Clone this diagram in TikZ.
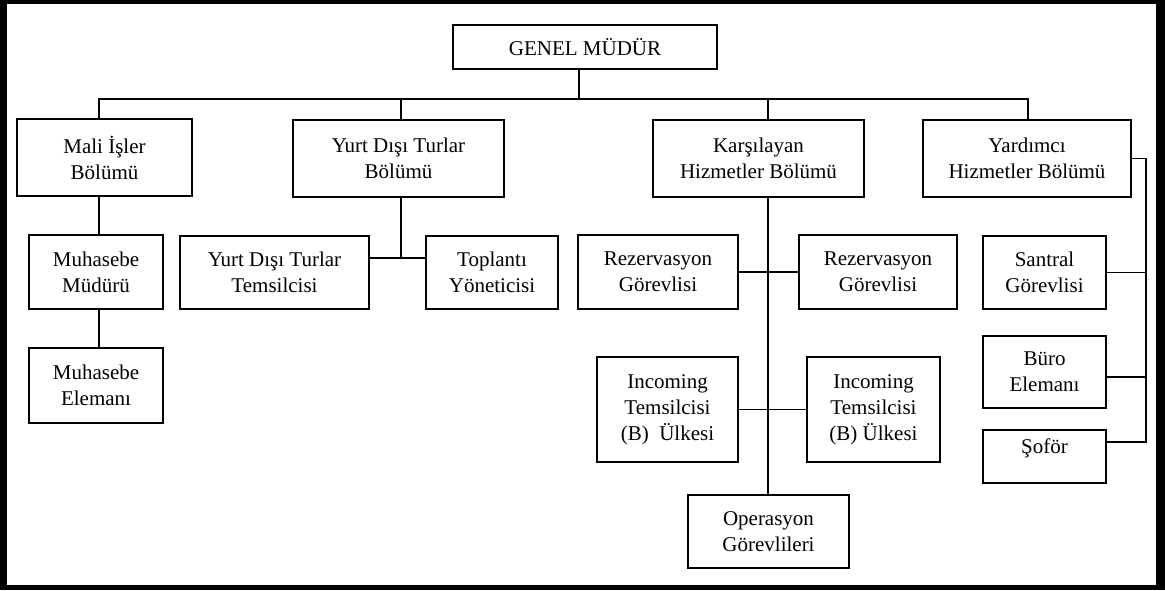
\documentclass[tikz,border=0pt]{standalone}
\usepackage{fontspec}
\setmainfont{Liberation Serif}
% box given by its left, top, right and bottom edges (pixel units)
\newcommand{\orgnode}[6]{%
  \node[orgbox, minimum width={(#4-#2)*0.75pt}, minimum height={(#5-#3)*0.75pt}]
    (#1) at ({(#2+#4)/2},{(#3+#5)/2}) {#6};}
\begin{document}
\begin{tikzpicture}[x=0.75pt,y=-0.75pt,
  orgtext/.style={align=center, inner sep=0pt,
    font=\fontsize{15.75}{19.5}\selectfont},
  orgbox/.style={orgtext, draw, line width=1.4pt},
  link/.style={line width=1.4pt}]
\useasboundingbox (0,0) rectangle (1165,590);
% heavy outer frame
\fill[black] (0,0) rectangle (1165,590);
\fill[white] (7,4) rectangle (1156,585);

% top level
\orgnode{gm}{453}{25}{717}{69}{GENEL MÜDÜR}
% departments
\orgnode{mali}{17}{119}{192}{196}{Mali İşler\\Bölümü}
\orgnode{yurt}{293}{120}{504}{197}{Yurt Dışı Turlar\\Bölümü}
\orgnode{kars}{653}{120}{864}{197}{Karşılayan\\Hizmetler Bölümü}
\orgnode{yard}{923}{120}{1131}{197}{Yardımcı\\Hizmetler Bölümü}
% finance
\orgnode{mm}{29}{235}{163}{309}{Muhasebe\\Müdürü}
\orgnode{me}{29}{348}{163}{423}{Muhasebe\\Elemanı}
% tours abroad
\orgnode{yt}{180}{236}{369}{309}{Yurt Dışı Turlar\\Temsilcisi}
\orgnode{toplanti}{426}{236}{558}{309}{Toplantı\\Yöneticisi}
% reception services
\orgnode{rz1}{578}{235}{738}{309}{Rezervasyon\\Görevlisi}
\orgnode{rz2}{799}{235}{957}{309}{Rezervasyon\\Görevlisi}
\orgnode{inc1}{597}{357}{738}{462}{Incoming\\Temsilcisi\\(B)~~Ülkesi}
\orgnode{inc2}{807}{357}{940}{462}{Incoming\\Temsilcisi\\(B) Ülkesi}
\orgnode{op}{688}{495}{849}{568}{Operasyon\\Görevlileri}
% support services
\orgnode{san}{983}{236}{1106}{309}{Santral\\Görevlisi}
\orgnode{buro}{983}{336}{1106}{408}{Büro\\Elemanı}
\orgnode{sofor}{983}{430}{1106}{483}{}
\node[orgtext, yshift=6pt] (sofortext) at (sofor.center) {Şoför};

% connector positions
\coordinate (xgm) at (579,99);
\coordinate (xmali) at (99,99);
\coordinate (xyurt) at (401,99);
\coordinate (xkars) at (768,99);
\coordinate (xyard) at (1028,99);
\coordinate (rail) at (1146,0);
\coordinate (yyurt) at (0,258);
\coordinate (yburo) at (0,377);
\coordinate (ysof) at (0,442);

% main bus
\draw[link] (xgm |- gm.south) -- (xgm);
\draw[link] (xmali |- mali.north) -- (xmali) -- (xyard) -- (xyard |- yard.north);
\draw[link] (xyurt) -- (xyurt |- yurt.north);
\draw[link] (xkars) -- (xkars |- kars.north);
% finance chain
\draw[link] (xmali |- mali.south) -- (xmali |- mm.north);
\draw[link] (xmali |- mm.south) -- (xmali |- me.north);
% tours abroad
\draw[link] (xyurt |- yurt.south) -- (xyurt |- yyurt);
\draw[link] (yt.east |- yyurt) -- (toplanti.west |- yyurt);
% reception services
\draw[link] (xkars |- kars.south) -- (xkars |- op.north);
\draw[link] (rz1.east) -- (rz2.west);
\draw[link] (inc1.east) -- (inc2.west);
% support services rail
\draw[link] (yard.east) -- (rail |- yard.east) -- (rail |- ysof) -- (sofor.east |- ysof);
\draw[link] (san.east) -- (rail |- san.east);
\draw[link] (buro.east |- yburo) -- (rail |- yburo);
\end{tikzpicture}
\end{document}
